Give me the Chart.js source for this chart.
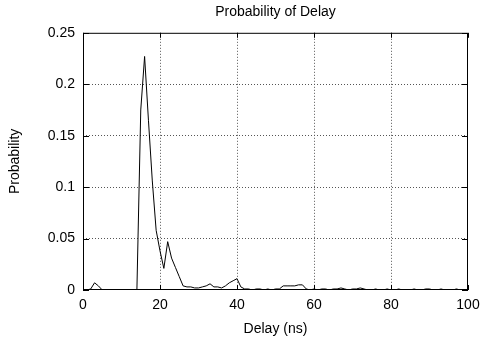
<!DOCTYPE html>
<html>
<head>
<meta charset="utf-8">
<script src="https://cdn.jsdelivr.net/npm/chart.js@4/dist/chart.umd.min.js"></script>
<style>
  html, body { margin: 0; padding: 0; background: #fff; }
  #wrap { width: 483px; height: 338px; }
</style>
</head>
<body>
<div id="wrap"><canvas id="delayChart" width="483" height="338"></canvas></div>
<script>
const delays = [
  0, 1, 2, 3, 4, 5, 6, 7, 8, 9,
  10, 11, 12, 13, 14, 15, 16, 17, 18, 19,
  20, 21, 22, 23, 24, 25, 26, 27, 28, 29,
  30, 31, 32, 33, 34, 35, 36, 37, 38, 39,
  40, 41, 42, 43, 44, 45, 46, 47, 48, 49,
  50, 51, 52, 53, 54, 55, 56, 57, 58, 59,
  60, 61, 62, 63, 64, 65, 66, 67, 68, 69,
  70, 71, 72, 73, 74, 75, 76, 77, 78, 79,
  80, 81, 82, 83, 84, 85, 86, 87, 88, 89,
  90, 91, 92, 93, 94, 95, 96, 97, 98, 99, 100
];
const probability = [
  0, 0, 0.001, 0.007, 0.004, 0, 0, 0, 0, 0,
  0, 0, 0, 0, 0, 0.175, 0.227, 0.165, 0.106, 0.058,
  0.038, 0.021, 0.047, 0.031, 0.022, 0.013, 0.004, 0.003, 0.003, 0.002,
  0.002, 0.003, 0.004, 0.006, 0.003, 0.003, 0.002, 0.004, 0.007, 0.009,
  0.011, 0.003, 0.001, 0.001, 0, 0.001, 0.001, 0, 0.001, 0,
  0.001, 0.001, 0.004, 0.004, 0.004, 0.004, 0.005, 0.005, 0.001, 0,
  0.001, 0, 0.001, 0.001, 0, 0.001, 0.001, 0.002, 0.001, 0,
  0.001, 0.001, 0.002, 0.001, 0, 0, 0.001, 0, 0, 0.001,
  0, 0, 0.001, 0, 0, 0, 0.001, 0, 0, 0.001,
  0.001, 0, 0, 0.001, 0, 0, 0, 0.001, 0, 0, 0
];
const xTicks = [0, 20, 40, 60, 80, 100];
const yTicks = [0, 0.05, 0.1, 0.15, 0.2, 0.25];

const font = { family: 'Liberation Sans, Arial, sans-serif', size: 14 };

// gnuplot style frame with inward ticks on every side
const framePlugin = {
  id: 'frame',
  afterDatasetsDraw(chart) {
    const { ctx, chartArea: a, scales } = chart;
    ctx.save();
    ctx.strokeStyle = '#000';
    ctx.lineWidth = 1;
    ctx.strokeRect(a.left + 0.5, a.top + 0.5, a.right - a.left - 1, a.bottom - a.top - 1);
    ctx.beginPath();
    xTicks.forEach(v => {
      const x = Math.round(scales.x.getPixelForValue(v)) + 0.5;
      ctx.moveTo(x, a.bottom); ctx.lineTo(x, a.bottom - 5);
      ctx.moveTo(x, a.top); ctx.lineTo(x, a.top + 5);
    });
    yTicks.forEach(v => {
      const y = Math.round(scales.y.getPixelForValue(v)) + 0.5;
      ctx.moveTo(a.left, y); ctx.lineTo(a.left + 6, y);
      ctx.moveTo(a.right, y); ctx.lineTo(a.right - 6, y);
    });
    ctx.stroke();
    ctx.restore();
  }
};

const ctx = document.getElementById('delayChart');
new Chart(ctx, {
  type: 'scatter',
  data: {
    datasets: [{
      label: 'Probability',
      data: delays.map((d, i) => ({ x: d, y: probability[i] })),
      showLine: true,
      borderColor: '#000',
      borderWidth: 1,
      pointRadius: 0,
      tension: 0
    }]
  },
  options: {
    responsive: false,
    animation: false,
    layout: { padding: 0 },
    plugins: {
      legend: { display: false },
      tooltip: { enabled: false },
      title: {
        display: true,
        fullSize: false,
        text: 'Probability of Delay',
        color: '#000',
        font: { ...font, weight: 'normal' },
        padding: { top: 4, bottom: 12 }
      }
    },
    scales: {
      x: {
        type: 'linear',
        min: 0,
        max: 100,
        afterFit(s) { s.height = 48; s.paddingRight = 15; s.paddingLeft = 0; },
        afterBuildTicks(s) { s.ticks = xTicks.map(v => ({ value: v })); },
        ticks: { color: '#000', font, padding: 7, maxRotation: 0 },
        grid: {
          color: c => (c.tick && (c.tick.value === 0 || c.tick.value === 100)) ? 'rgba(0,0,0,0)' : '#555',
          drawTicks: false
        },
        border: { display: false, dash: [1, 2] },
        title: { display: true, text: 'Delay (ns)', color: '#000', font, padding: { top: 3, bottom: 0 } }
      },
      y: {
        min: 0,
        max: 0.25,
        afterFit(s) { s.width = 83; s.paddingTop = 0; s.paddingBottom = 0; },
        afterBuildTicks(s) { s.ticks = yTicks.map(v => ({ value: v })); },
        ticks: { color: '#000', font, padding: 8, callback: v => String(+v.toFixed(2)) },
        grid: {
          color: c => (c.tick && (c.tick.value === 0 || c.tick.value === 0.25)) ? 'rgba(0,0,0,0)' : '#555',
          drawTicks: false
        },
        border: { display: false, dash: [1, 2] },
        title: { display: true, text: 'Probability', color: '#000', font, padding: { top: 7, bottom: 0 } }
      }
    }
  },
  plugins: [framePlugin]
});
</script>
</body>
</html>
